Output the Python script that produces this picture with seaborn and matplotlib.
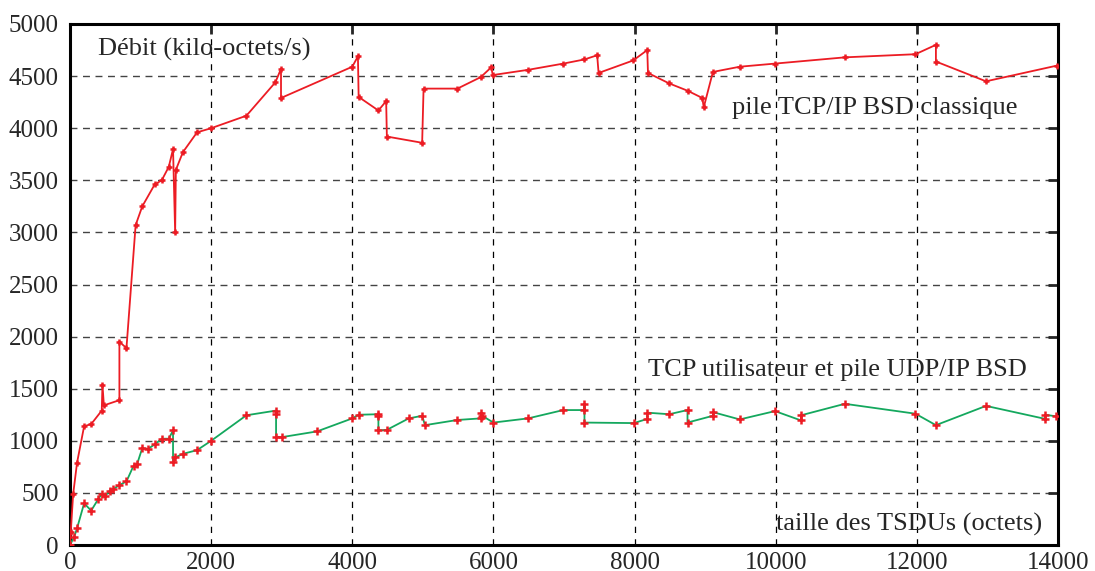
import matplotlib
matplotlib.use("Agg")
import matplotlib.pyplot as plt
import seaborn as sns
import pandas as pd

# taille des TSDUs (octets) / debit (kilo-octets/s)
bsd_x = [0, 10, 45, 100, 200, 300, 450, 460, 480, 700, 700, 800, 930, 1024, 1200, 1300,
         1400, 1460, 1490, 1500, 1600, 1800, 2000, 2500, 2910, 2990, 2990, 4000, 4080, 4090,
         4370, 4480, 4490, 4990, 5010, 5490, 5820, 5970, 5990, 6490, 6990, 7290, 7470, 7490,
         7980, 8180, 8190, 8490, 8750, 8960, 8980, 9110, 9490, 9990, 10980, 11980, 12270,
         12270, 12980, 13980]
bsd_y = [0, 120, 490, 790, 1140, 1160, 1290, 1540, 1340, 1390, 1950, 1890, 3070, 3250, 3460, 3500,
         3630, 3800, 3000, 3600, 3770, 3960, 4000, 4120, 4440, 4570, 4290, 4590, 4690, 4300,
         4170, 4260, 3920, 3860, 4380, 4380, 4490, 4585, 4510, 4560, 4620, 4660, 4700, 4530,
         4650, 4750, 4530, 4430, 4360, 4290, 4200, 4540, 4590, 4620, 4680, 4710, 4800,
         4640, 4450, 4600]

udp_x = [0, 60, 100, 200, 300, 400, 450, 500, 560, 610, 700, 800, 900, 950, 1024, 1100,
         1200, 1300, 1400, 1460, 1460, 1490, 1600, 1800, 2000, 2500, 2920, 2920, 2920, 3000,
         3500, 4000, 4090, 4370, 4370, 4370, 4490, 4800, 4990, 5030, 5490, 5820, 5820, 5840,
         6000, 6490, 6990, 7290, 7290, 7290, 7990, 8180, 8180, 8490, 8750, 8750, 9110, 9110,
         9490, 9990, 10360, 10360, 10980, 11980, 12270, 12980, 13820, 13820, 13970]
udp_y = [0, 80, 160, 400, 330, 440, 490, 470, 520, 535, 575, 610, 760, 775, 930, 920,
         965, 1020, 1020, 1100, 800, 840, 875, 910, 1000, 1245, 1290, 1255, 1040, 1035,
         1090, 1215, 1250, 1255, 1240, 1100, 1105, 1215, 1240, 1150, 1200, 1215, 1270, 1240,
         1175, 1215, 1295, 1295, 1350, 1175, 1170, 1210, 1270, 1255, 1295, 1175, 1240, 1275,
         1205, 1285, 1195, 1245, 1355, 1260, 1150, 1335, 1210, 1250, 1235]

x_ticks = [0, 2000, 4000, 6000, 8000, 10000, 12000, 14000]
y_ticks = [0, 500, 1000, 1500, 2000, 2500, 3000, 3500, 4000, 4500, 5000]

sns.set_style("white")
plt.rcParams['font.family'] = ['Liberation Serif', 'DejaVu Serif']

bsd = pd.DataFrame({"taille": bsd_x, "debit": bsd_y})
udp = pd.DataFrame({"taille": udp_x, "debit": udp_y})

fig = plt.figure(figsize=(10.95, 5.71), dpi=100)
ax = fig.add_axes([70 / 1095, 26 / 571, 988 / 1095, 521 / 571])

red = "#ec1c24"
green = "#14a85e"
sns.lineplot(data=bsd, x="taille", y="debit", sort=False, estimator=None, color=red,
             lw=1.3, marker="+", markersize=5, mew=1.8, mec=red, ax=ax, zorder=3)
sns.lineplot(data=udp, x="taille", y="debit", sort=False, estimator=None, color=green,
             lw=1.3, marker="+", markersize=6, mew=1.8, mec=red, ax=ax, zorder=3)

ax.set_xlim(0, 14000)
ax.set_ylim(0, 5000)
ax.set_xticks(x_ticks)
ax.set_yticks(y_ticks)
ax.set_xlabel("")
ax.set_ylabel("")
ax.tick_params(direction="in", length=7, width=2, top=True, right=True, labelsize=18)
ax.tick_params(axis="y", pad=8)
ax.tick_params(axis="x", pad=5)
for s in ax.spines.values():
    s.set_linewidth(2.2)
    s.set_color("black")
ax.xaxis.grid(True, color="black", ls=(0, (5, 5)), lw=0.9)
ax.yaxis.grid(True, color="#444444", ls=(0, (5, 4)), lw=1.0)

ax.text(400, 4760, "Débit (kilo-octets/s)", fontsize=19, va="center", ha="left")
ax.text(9380, 4190, "pile TCP/IP BSD classique", fontsize=19, va="center", ha="left")
ax.text(8190, 1680, "TCP utilisateur et pile UDP/IP BSD", fontsize=19, va="center", ha="left")
ax.text(10000, 200, "taille des TSDUs (octets)", fontsize=19, va="center", ha="left")

fig.savefig("out.png", dpi=100)
